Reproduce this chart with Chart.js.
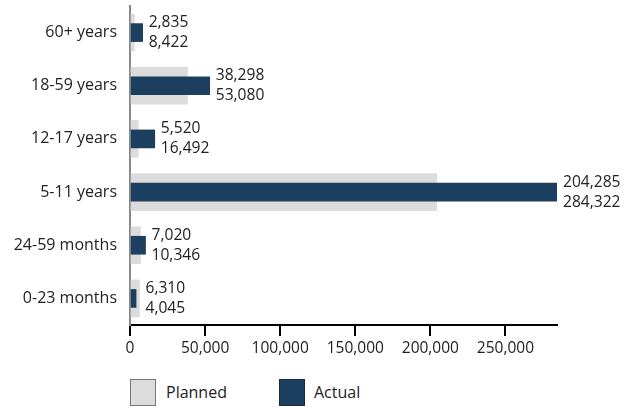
<!DOCTYPE html>
<html>
<head>
<meta charset="utf-8">
<script src="https://cdn.jsdelivr.net/npm/chart.js@4.4.1/dist/chart.umd.min.js"></script>
<style>
  html, body { margin: 0; padding: 0; background: #fff; }
  #wrap { position: relative; width: 637px; height: 408px; font-family: "Open Sans", sans-serif; color: #222; }
  #chart { position: absolute; left: 0; top: 0; }
  .swatch { position: absolute; top: 379px; width: 26px; height: 27px; box-sizing: border-box; border: 1px solid #777; }
  .lbl { position: absolute; top: 381px; font-size: 16px; line-height: 22px; }
</style>
</head>
<body>
<div id="wrap">
  <canvas id="chart" width="637" height="370"></canvas>
  <div class="swatch" style="left:130px;background:#dcdcdc;"></div>
  <div class="lbl" style="left:166px;">Planned</div>
  <div class="swatch" style="left:279px;background:#1c3f5f;border-color:#132c44;"></div>
  <div class="lbl" style="left:314px;">Actual</div>
</div>
<script>
const categories = ['60+ years', '18-59 years', '12-17 years', '5-11 years', '24-59 months', '0-23 months'];
const planned = [2835, 38298, 5520, 204285, 7020, 6310];
const actual = [8422, 53080, 16492, 284322, 10346, 4045];
const xTicks = [0, 50000, 100000, 150000, 200000, 250000];

const fmt = v => v.toLocaleString('en-US');
const FONT = '"Open Sans", sans-serif';

// two-line value labels to the right of the longer bar
const valueLabels = {
  id: 'valueLabels',
  afterDatasetsDraw(chart) {
    const ctx = chart.ctx;
    const xs = chart.scales.x, ys = chart.scales.y;
    ctx.save();
    ctx.font = '15.6px ' + FONT;
    ctx.fillStyle = '#222';
    ctx.textAlign = 'left';
    ctx.textBaseline = 'middle';
    categories.forEach((c, i) => {
      const x = xs.getPixelForValue(Math.max(planned[i], actual[i])) + 6;
      const y = ys.getPixelForValue(i);
      ctx.fillText(fmt(planned[i]), x, y - 10);
      ctx.fillText(fmt(actual[i]), x, y + 10);
    });
    ctx.restore();
  }
};

new Chart(document.getElementById('chart'), {
  type: 'bar',
  data: {
    labels: categories,
    datasets: [
      { label: 'Planned', data: planned, backgroundColor: '#dcdcdc', barThickness: 37, grouped: false, order: 1 },
      { label: 'Actual', data: actual, backgroundColor: '#1c3f5f', barThickness: 18, grouped: false, order: 0 }
    ]
  },
  options: {
    indexAxis: 'y',
    responsive: false,
    animation: false,
    layout: { padding: { top: 6, right: 80, left: 0, bottom: 0 } },
    plugins: { legend: { display: false }, tooltip: { enabled: false } },
    scales: {
      x: {
        min: 0,
        max: Math.max(...actual, ...planned),
        afterFit(s) { s.height = 45; },
        afterBuildTicks(s) { s.ticks = xTicks.map(v => ({ value: v })); },
        grid: { display: true, drawOnChartArea: false, drawTicks: true, tickLength: 11, color: '#000', lineWidth: 2 },
        border: { display: true, color: '#000', width: 2 },
        ticks: { font: { family: FONT, size: 15.5 }, color: '#222', padding: 3, maxRotation: 0, callback: v => fmt(v) }
      },
      y: {
        afterFit(s) { s.width = 130; s.paddingTop = 0; s.paddingBottom = 0; },
        grid: { display: false, drawTicks: false },
        border: { display: true, color: '#888', width: 2 },
        ticks: { font: { family: FONT, size: 16 }, color: '#222', padding: 13 }
      }
    }
  },
  plugins: [valueLabels]
});
</script>
</body>
</html>
